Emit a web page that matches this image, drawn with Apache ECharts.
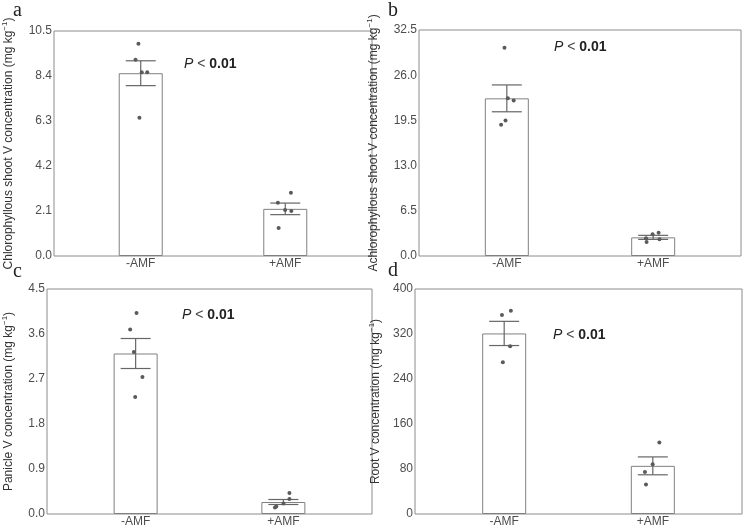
<!DOCTYPE html>
<html>
<head>
<meta charset="utf-8">
<script src="https://cdn.jsdelivr.net/npm/echarts@6/dist/echarts.min.js"></script>
<style>
  html, body { margin: 0; padding: 0; background: #fff; }
  #chart { width: 745px; height: 528px; }
</style>
</head>
<body>
<div id="chart"></div>
<script>
// groups on x axis
const categories = ['-AMF', '+AMF'];

// y axis titles
const yTitles = [
  'Chlorophyllous shoot V concentration (mg kg',
  'Achlorophyllous shoot V concentration (mg kg',
  'Panicle V concentration (mg kg',
  'Root V concentration (mg kg'
];
const panelTags = ['a', 'b', 'c', 'd'];

// axis ranges
const yMax = [10.5, 32.5, 4.5, 400];
const yStep = [2.1, 6.5, 0.9, 80];
const yDecimals = [1, 1, 1, 0];

// bar means and SE per panel (-AMF, +AMF)
const meanA = [8.53, 2.20];
const seA = [0.58, 0.27];
const meanB = [22.67, 2.68];
const seB = [1.93, 0.29];
const meanC = [3.21, 0.24];
const seC = [0.30, 0.05];
const meanD = [321, 85.6];
const seD = [21.5, 15.9];

// individual replicates, with small horizontal jitter (in group units)
const ptsA = [[9.91, 9.16, 8.57, 8.57, 6.45], [2.95, 2.49, 2.15, 2.10, 1.31]];
const jitA = [[-0.016, -0.036, 0.007, 0.045, -0.009], [0.039, -0.051, -0.001, 0.042, -0.046]];
const ptsB = [[29.96, 22.68, 22.35, 19.48, 18.86], [3.11, 3.36, 2.54, 2.40, 2.01]];
const jitB = [[-0.016, 0.007, 0.047, -0.009, -0.039], [-0.004, 0.037, -0.049, 0.043, -0.045]];
const ptsC = [[4.02, 3.69, 3.24, 2.74, 2.34], [0.42, 0.30, 0.21, 0.15, 0.13]];
const jitC = [[0.006, -0.037, -0.012, 0.046, -0.003], [0.041, 0.041, 0.001, -0.048, -0.057]];
const ptsD = [[353.6, 361.2, 298.3, 270], [127, 88.3, 74.7, 52.3]];
const jitD = [[-0.015, 0.045, 0.040, -0.009], [0.044, -0.001, -0.053, -0.046]];

const means = [meanA, meanB, meanC, meanD];
const ses = [seA, seB, seC, seD];
const pts = [ptsA, ptsB, ptsC, ptsD];
const jits = [jitA, jitB, jitC, jitD];

const font = 'Liberation Sans, Arial, sans-serif';
const grey = '#4d4d4d';

const grids = [
  { left: 47, top: 31, width: 325, height: 225 },
  { left: 419, top: 30, width: 322, height: 226 },
  { left: 44, top: 289, width: 328, height: 226 },
  { left: 415, top: 289, width: 327, height: 226 }
];
const nameGaps = [37, 37, 30, 31];
const pPos = [[184, 64], [554, 47], [182, 315], [553, 335]];
const tagPos = [[13, 11], [388, 11], [13, 272], [388, 271]];

const chart = echarts.init(document.getElementById('chart'));

const xAxes = [], yAxes = [], series = [], graphics = [];

grids.forEach((g, i) => {
  g.show = true;
  g.borderColor = '#8c8c8c';
  g.borderWidth = 1;
  g.backgroundColor = 'transparent';

  xAxes.push({
    gridIndex: i, type: 'value', min: 0.4, max: 2.6,
    axisLine: { show: false }, axisTick: { show: false }, splitLine: { show: false },
    axisLabel: {
      customValues: [1, 2],
      formatter: v => categories[Math.round(v) - 1] || '',
      fontSize: 12, color: grey, fontFamily: font, margin: 2
    }
  });
  yAxes.push({
    gridIndex: i, type: 'value', min: 0, max: yMax[i], interval: yStep[i],
    name: '{t|' + yTitles[i] + '}{s|−1}{t|)}',
    nameLocation: 'middle', nameGap: nameGaps[i], nameRotate: 90,
    nameTextStyle: {
      rich: {
        t: { fontSize: 12, color: '#333', fontFamily: font },
        s: { fontSize: 8, color: '#333', fontFamily: font, padding: [0, 0, 8, 0] }
      }
    },
    axisLine: { show: false }, axisTick: { show: false }, splitLine: { show: false },
    axisLabel: {
      formatter: v => v.toFixed(yDecimals[i]),
      fontSize: 12, color: grey, fontFamily: font, margin: 2
    }
  });

  series.push({
    type: 'bar', xAxisIndex: i, yAxisIndex: i, barWidth: 44,
    itemStyle: { color: '#fff', borderColor: '#808080', borderWidth: 1 },
    data: means[i].map((m, k) => [k + 1, m]),
    z: 1
  });
  series.push({
    type: 'custom', xAxisIndex: i, yAxisIndex: i,
    data: means[i].map((m, k) => [k + 1, m, ses[i][k]]),
    renderItem: (params, api) => {
      const x = api.value(0), m = api.value(1), s = api.value(2);
      const hi = api.coord([x, m + s]);
      const lo = api.coord([x, m - s]);
      const w = 15;
      const st = { stroke: '#666', lineWidth: 1.2 };
      return {
        type: 'group', children: [
          { type: 'line', shape: { x1: hi[0], y1: hi[1], x2: lo[0], y2: lo[1] }, style: st },
          { type: 'line', shape: { x1: hi[0] - w, y1: hi[1], x2: hi[0] + w, y2: hi[1] }, style: st },
          { type: 'line', shape: { x1: lo[0] - w, y1: lo[1], x2: lo[0] + w, y2: lo[1] }, style: st }
        ]
      };
    },
    z: 2
  });
  const dots = [];
  pts[i].forEach((arr, k) => arr.forEach((v, j) => dots.push([k + 1 + jits[i][k][j], v])));
  series.push({
    type: 'scatter', xAxisIndex: i, yAxisIndex: i,
    symbolSize: 4, itemStyle: { color: '#5a5a5a', opacity: 1 },
    data: dots, z: 3
  });

  graphics.push({
    type: 'text', x: pPos[i][0], y: pPos[i][1],
    style: {
      text: '{i|P} < {b|0.01}', verticalAlign: 'middle',
      rich: {
        i: { fontStyle: 'italic', fontSize: 14, fontFamily: font, fill: '#222' },
        b: { fontWeight: 'bold', fontSize: 14, fontFamily: font, fill: '#222' }
      },
      fontSize: 14, fontFamily: font, fill: '#444'
    }
  });
  graphics.push({
    type: 'text', x: tagPos[i][0], y: tagPos[i][1],
    style: {
      text: panelTags[i], verticalAlign: 'middle',
      fontSize: 20, fontFamily: 'Liberation Serif, Times New Roman, serif', fill: '#222'
    }
  });
});

chart.setOption({
  animation: false,
  backgroundColor: '#fff',
  grid: grids,
  xAxis: xAxes,
  yAxis: yAxes,
  series: series,
  graphic: graphics
});
</script>
</body>
</html>
